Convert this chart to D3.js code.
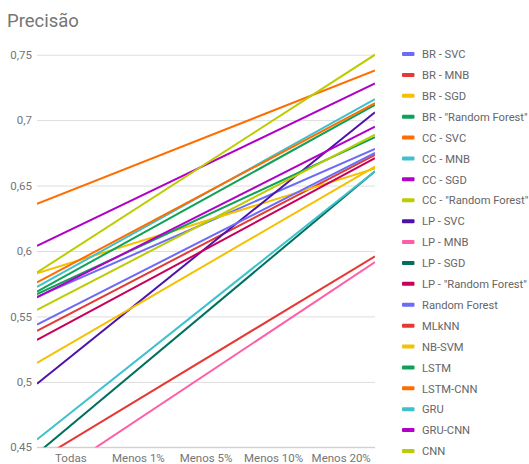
<!DOCTYPE html>
<html>
<head>
<meta charset="utf-8">
<script src="https://cdn.jsdelivr.net/npm/d3@7"></script>
<style>
  html, body { margin: 0; padding: 0; background: #fff; }
  svg { display: block; font-family: Roboto, "Noto Sans", sans-serif; }
</style>
</head>
<body>
<svg id="chart" width="529" height="464"></svg>
<script>
const title = "Precisão";
const categories = ["Todas", "Menos 1%", "Menos 5%", "Menos 10%", "Menos 20%"];
const yTicks = [0.45, 0.5, 0.55, 0.6, 0.65, 0.7, 0.75];
const seriesNames = [
  "BR - SVC", "BR - MNB", "BR - SGD", "BR - \"Random Forest\"",
  "CC - SVC", "CC - MNB", "CC - SGD", "CC - \"Random Forest\"",
  "LP - SVC", "LP - MNB", "LP - SGD", "LP - \"Random Forest\"",
  "Random Forest", "MLkNN", "NB-SVM", "LSTM", "LSTM-CNN", "GRU", "GRU-CNN", "CNN"
];
// trend line value at the left edge and right edge of the plot
const trendStart = [0.565, 0.539, 0.583, 0.569, 0.636, 0.5725, 0.604, 0.5836, 0.4986, 0.420,
                    0.4452, 0.532, 0.5437, 0.4397, 0.5145, 0.567, 0.576, 0.456, 0.5645, 0.555];
const trendEnd   = [0.678, 0.6734, 0.663, 0.7116, 0.738, 0.716, 0.728, 0.750, 0.706, 0.5915,
                    0.661, 0.671, 0.675, 0.596, 0.6645, 0.687, 0.713, 0.661, 0.695, 0.689];
const palette = ["#6b6bf7", "#e53935", "#f6c000", "#0fa05a", "#ff6d00", "#3ec1cc",
                 "#b000c8", "#bccc00", "#4d12aa", "#ff5ea6", "#00705c", "#c8005a"];

const svg = d3.select("#chart");
const pLeft = 37, pRight = 375, pTop = 54.7, pBottom = 447.3;

const x = d3.scaleBand().domain(categories).range([pLeft, pRight]).padding(0);
const y = d3.scaleLinear().domain([0.45, 0.75]).range([pBottom, pTop]);
const loc = d3.formatLocale({decimal: ",", thousands: ".", grouping: [3], currency: ["", ""]});
const fmt = v => loc.format("~g")(+v.toFixed(2));

svg.append("text").attr("x", 7).attr("y", 27)
  .attr("font-size", 18.5).attr("fill", "#757575").text(title);

// grid
const yAxis = d3.axisLeft(y).tickValues(yTicks).tickFormat(fmt).tickSize(-(pRight - pLeft)).tickPadding(5);
const gy = svg.append("g").attr("transform", `translate(${pLeft},0)`).call(yAxis);
gy.select(".domain").remove();
gy.selectAll(".tick line").attr("stroke", "#dddddd").attr("stroke-width", 1);
gy.selectAll(".tick text").attr("fill", "#757575").attr("font-size", 11.5)
  .attr("font-family", "Roboto, sans-serif");

// baseline
svg.append("line").attr("x1", pLeft).attr("x2", pRight).attr("y1", y(0.45)).attr("y2", y(0.45))
  .attr("stroke", "#cccccc");

const xAxis = d3.axisBottom(x).tickSize(0).tickPadding(7);
const gx = svg.append("g").attr("transform", `translate(0,${pBottom})`).call(xAxis);
gx.select(".domain").remove();
gx.selectAll(".tick text").attr("fill", "#757575").attr("font-size", 11.5)
  .attr("font-family", "Roboto, sans-serif");

svg.append("clipPath").attr("id", "plotclip").append("rect")
  .attr("x", pLeft).attr("y", pTop - 2).attr("width", pRight - pLeft).attr("height", pBottom - pTop + 2);

const data = seriesNames.map((name, i) => ({
  name, color: palette[i % palette.length],
  pts: [[x.range()[0], trendStart[i]], [x.range()[1], trendEnd[i]]]
}));

const line = d3.line().x(d => d[0]).y(d => y(d[1]));
svg.append("g").attr("clip-path", "url(#plotclip)")
  .selectAll("path").data(data).join("path")
  .attr("d", d => line(d.pts))
  .attr("fill", "none").attr("stroke", d => d.color).attr("stroke-width", 2);

// legend
const lg = svg.append("g");
const ly0 = 54, lstep = (451 - 54) / 19;
data.forEach((d, i) => {
  const yy = ly0 + i * lstep;
  lg.append("rect").attr("x", 402).attr("y", yy - 2).attr("width", 12.5).attr("height", 4)
    .attr("rx", 1).attr("fill", d.color);
  lg.append("text").attr("x", 422).attr("y", yy + 4.2).attr("font-size", 11.2)
    .attr("fill", "#666666").text(d.name);
});
</script>
</body>
</html>
